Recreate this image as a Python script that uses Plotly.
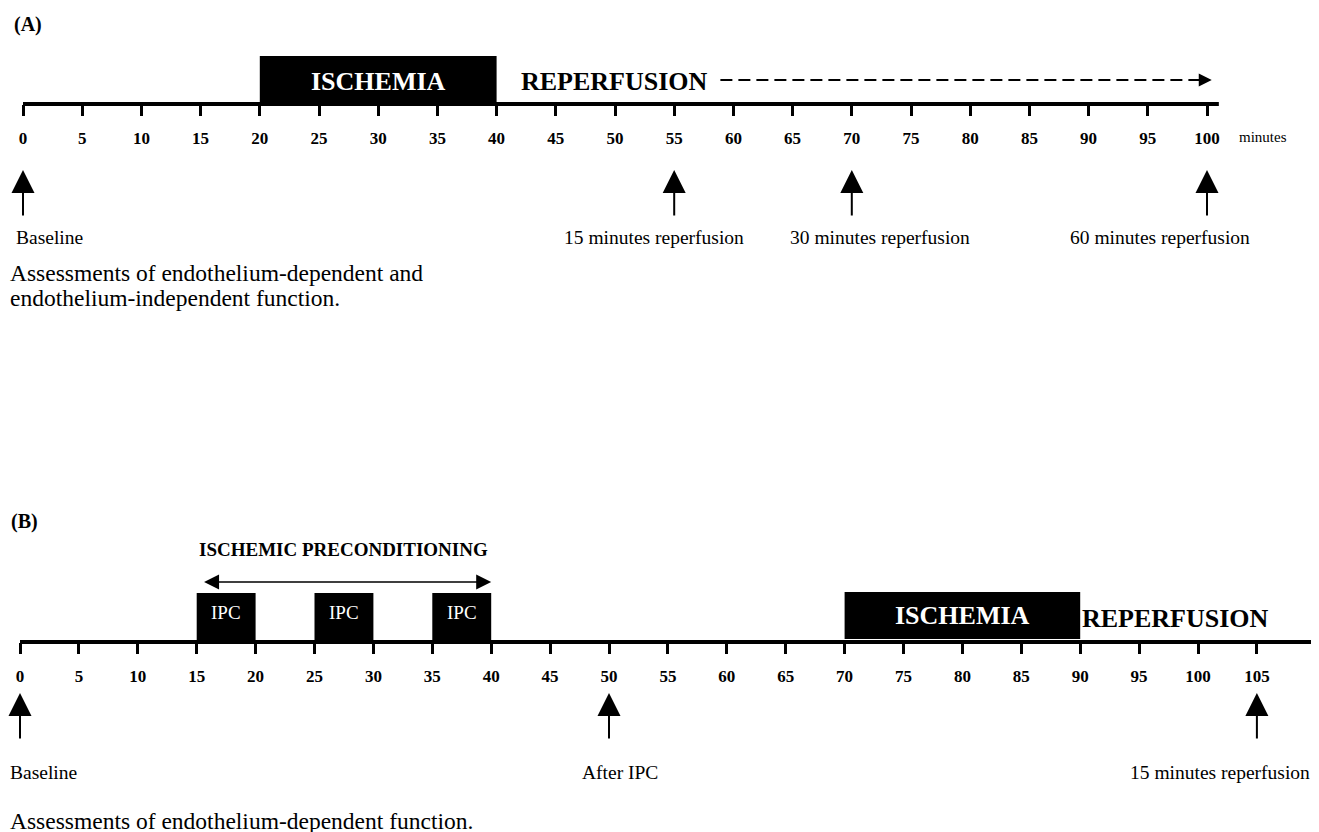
import plotly.graph_objects as go

# ---------------- data (minutes) ----------------
ticks_a = list(range(0, 101, 5))
ticks_b = list(range(0, 106, 5))
timeline_end_a = 101.0
timeline_end_b = 109.7

ischemia_a = [20, 40]
reperfusion_arrow_a = [58.9, 100.4]

ipc_periods = [[15, 20], [25, 30], [35, 40]]
ipc_labels = ["IPC", "IPC", "IPC"]
ischemia_b = [70, 90]
precond_arrow = [15.5, 40]

assess_times_a = [0, 55, 70, 100]
assess_labels_a = ["Baseline", "15 minutes reperfusion", "30 minutes reperfusion", "60 minutes reperfusion"]
assess_label_x_a = [2.2, 53.3, 72.4, 96.0]

assess_times_b = [0, 50, 105]
assess_labels_b = ["Baseline", "After IPC", "15 minutes reperfusion"]
assess_label_x_b = [2.0, 50.9, 101.9]

# ---------------- layout constants ----------------
W, H = 1319, 832
OFF = 8  # page body margin
PX0_A, PPM_A = 23, 11.84
PX0_B, PPM_B = 20, 11.78
SERIF = "Liberation Serif"

# vertical rows (page pixels, y axis runs top->bottom)
A_AXIS = 104
A_BOX_TOP = 56
A_ARROW_TIP, A_ARROW_TAIL = 170, 217
A_LABEL = 237
B_AXIS = 642
B_BOX_TOP = 593
B_ARROW_TIP, B_ARROW_TAIL = 693, 740
B_LABEL = 772

def px(x):
    return (x - OFF) / W

fig = go.Figure()

# timelines
fig.add_trace(go.Scatter(x=[0, timeline_end_a], y=[A_AXIS, A_AXIS], mode="lines",
                         line=dict(color="black", width=4), xaxis="x", yaxis="y",
                         hoverinfo="skip", showlegend=False))
fig.add_trace(go.Scatter(x=[0, timeline_end_b], y=[B_AXIS, B_AXIS], mode="lines",
                         line=dict(color="black", width=4), xaxis="x2", yaxis="y2",
                         hoverinfo="skip", showlegend=False))
# dashed reperfusion arrow (A)
fig.add_trace(go.Scatter(x=[reperfusion_arrow_a[0], reperfusion_arrow_a[1] - 0.8], y=[80, 80],
                         mode="lines", line=dict(color="black", width=2, dash="12px,6px"),
                         xaxis="x", yaxis="y", hoverinfo="skip", showlegend=False))

shapes = []
annotations = []

def txt(text, x, y, xref, yref, size, bold=False, color="black", xanchor="center"):
    annotations.append(dict(text=f"<b>{text}</b>" if bold else text, x=x, y=y, xref=xref, yref=yref,
                            showarrow=False, xanchor=xanchor, yanchor="middle",
                            font=dict(family=SERIF, size=size, color=color)))

# Panel A
shapes.append(dict(type="rect", xref="x", yref="y", x0=ischemia_a[0], x1=ischemia_a[1],
                   y0=A_BOX_TOP, y1=A_AXIS, fillcolor="black", line=dict(width=0), layer="above"))
txt("ISCHEMIA", sum(ischemia_a) / 2, 81, "x", "y", 26, bold=True, color="white")
txt("REPERFUSION", 41.9, 81, "x", "y", 26, bold=True, xanchor="left")
annotations.append(dict(x=reperfusion_arrow_a[1], y=80, ax=reperfusion_arrow_a[1] - 1.2, ay=80,
                        xref="x", yref="y", axref="x", ayref="y", text="", showarrow=True,
                        arrowhead=2, arrowwidth=2, arrowsize=1.3, arrowcolor="black"))
txt("minutes", 104.7, 137, "x", "y", 15)
for t, lab, lx in zip(assess_times_a, assess_labels_a, assess_label_x_a):
    annotations.append(dict(x=t, y=A_ARROW_TIP, ax=t, ay=A_ARROW_TAIL, xref="x", yref="y",
                            axref="x", ayref="y", text="", showarrow=True, arrowhead=2,
                            arrowwidth=2, arrowsize=2.3, arrowcolor="black"))
    txt(lab, lx, A_LABEL, "x", "y", 19.5)
txt("(A)", px(12), 24, "paper", "y", 20, bold=True, xanchor="left")
txt("Assessments of endothelium-dependent and", px(8), 273, "paper", "y", 23.5, xanchor="left")
txt("endothelium-independent function.", px(8), 298, "paper", "y", 23.5, xanchor="left")

# Panel B
for (s, e), lab in zip(ipc_periods, ipc_labels):
    shapes.append(dict(type="rect", xref="x2", yref="y2", x0=s, x1=e, y0=B_BOX_TOP, y1=B_AXIS,
                       fillcolor="black", line=dict(width=0), layer="above"))
    txt(lab, (s + e) / 2, 612, "x2", "y2", 19, color="white")
shapes.append(dict(type="rect", xref="x2", yref="y2", x0=ischemia_b[0], x1=ischemia_b[1],
                   y0=B_BOX_TOP - 1, y1=B_AXIS - 3, fillcolor="black", line=dict(width=0), layer="above"))
txt("ISCHEMIA", sum(ischemia_b) / 2, 615, "x2", "y2", 26, bold=True, color="white")
txt("REPERFUSION", ischemia_b[1], 618, "x2", "y2", 26, bold=True, xanchor="left")
txt("ISCHEMIC PRECONDITIONING", sum(precond_arrow) / 2 - 0.3, 549, "x2", "y2", 19, bold=True)
annotations.append(dict(x=precond_arrow[1], y=582, ax=precond_arrow[0], ay=582, xref="x2", yref="y2",
                        axref="x2", ayref="y2", text="", showarrow=True, arrowhead=2, startarrowhead=2,
                        arrowside="end+start", arrowwidth=1.5, arrowsize=2, startarrowsize=2,
                        arrowcolor="black"))
for t, lab, lx in zip(assess_times_b, assess_labels_b, assess_label_x_b):
    annotations.append(dict(x=t, y=B_ARROW_TIP, ax=t, ay=B_ARROW_TAIL, xref="x2", yref="y2",
                            axref="x2", ayref="y2", text="", showarrow=True, arrowhead=2,
                            arrowwidth=2, arrowsize=2.3, arrowcolor="black"))
    txt(lab, lx, B_LABEL, "x2", "y2", 19.5)
txt("(B)", px(9), 521, "paper", "y2", 20, bold=True, xanchor="left")
txt("Assessments of endothelium-dependent function.", px(8), 821, "paper", "y2", 23.5, xanchor="left")

axis_common = dict(showline=False, showgrid=False, zeroline=False, ticks="outside", ticklen=11,
                   tickwidth=3, tickcolor="black", anchor="free", fixedrange=True,
                   ticklabelstandoff=8,
                   tickfont=dict(family=SERIF, size=17, color="black"))

fig.update_layout(
    width=W, height=H, margin=dict(l=0, r=0, t=0, b=0, pad=0),
    paper_bgcolor="white", plot_bgcolor="rgba(0,0,0,0)", showlegend=False,
    xaxis=dict(domain=[0, 1], range=[-(PX0_A - OFF) / PPM_A, (W - PX0_A + OFF) / PPM_A],
               position=1 - (A_AXIS - OFF) / H, tickvals=ticks_a,
               ticktext=[f"<b>{t}</b>" for t in ticks_a], **axis_common),
    xaxis2=dict(domain=[0, 1], range=[-(PX0_B - OFF) / PPM_B, (W - PX0_B + OFF) / PPM_B],
                position=1 - (B_AXIS - OFF) / H, tickvals=ticks_b,
                ticktext=[f"<b>{t}</b>" for t in ticks_b], **axis_common),
    yaxis=dict(domain=[0, 1], range=[H + OFF, OFF], visible=False, anchor="x", fixedrange=True),
    yaxis2=dict(domain=[0, 1], range=[H + OFF, OFF], visible=False, anchor="x2", fixedrange=True),
    shapes=shapes, annotations=annotations,
)

fig.write_html("out.html")
